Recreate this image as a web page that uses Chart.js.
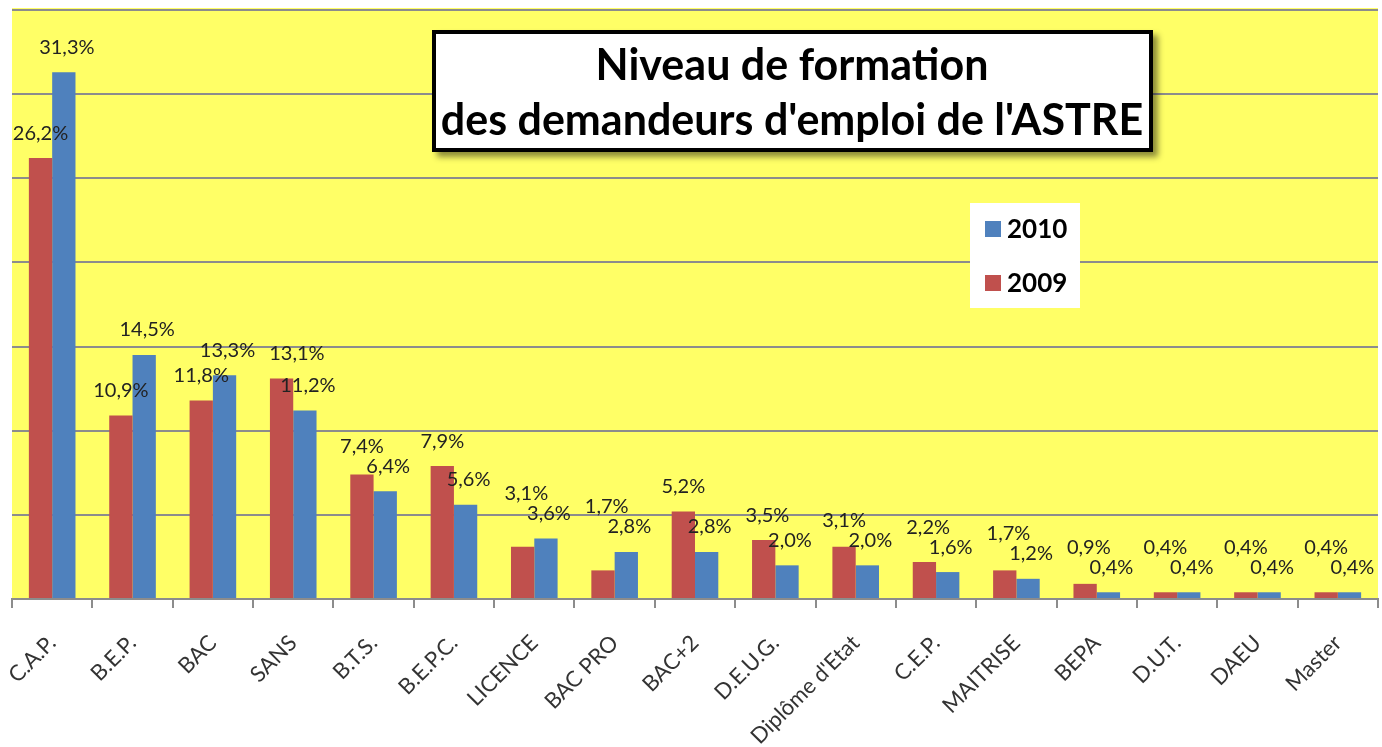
<!DOCTYPE html>
<html>
<head>
<meta charset="utf-8">
<script src="https://cdn.jsdelivr.net/npm/chart.js@4"></script>
<style>
  body { margin: 0; background: #fff; }
  #wrap { width: 1382px; height: 747px; }
</style>
</head>
<body>
<div id="wrap"><canvas id="chartFormation"></canvas></div>
<script>
// Niveau de formation
const niveaux = [
  "C.A.P.", "B.E.P.", "BAC", "SANS", "B.T.S.", "B.E.P.C.", "LICENCE",
  "BAC PRO", "BAC+2", "D.E.U.G.", "Diplôme d'Etat", "C.E.P.", "MAITRISE",
  "BEPA", "D.U.T.", "DAEU", "Master",
];
const val2009 = [26.2, 10.9, 11.8, 13.1, 7.4, 7.9, 3.1, 1.7, 5.2, 3.5, 3.1, 2.2, 1.7, 0.9, 0.4, 0.4, 0.4];
const val2010 = [31.3, 14.5, 13.3, 11.2, 6.4, 5.6, 3.6, 2.8, 2.8, 2.0, 2.0, 1.6, 1.2, 0.4, 0.4, 0.4, 0.4];
const titre = ["Niveau de formation", "des demandeurs d'emploi de l'ASTRE"];

const police = "Lato, 'Open Sans', sans-serif";

// fond jaune + titre + légende + étiquettes
const decor = {
  id: "decor",
  beforeDraw(chart) {
    const { ctx, chartArea: a } = chart;
    ctx.save();
    ctx.fillStyle = "#ffff66";
    ctx.fillRect(a.left, a.top - 2, a.right - a.left, a.bottom - a.top + 2);
    ctx.restore();
  },
  afterDatasetsDraw(chart) {
    const ctx = chart.ctx;
    const rouges = chart.getDatasetMeta(0).data;
    const bleues = chart.getDatasetMeta(1).data;
    const fmt = (v) => v.toFixed(1).replace(".", ",") + "%";
    ctx.save();
    ctx.font = "20px " + police;
    ctx.fillStyle = "#222";
    ctx.textAlign = "center";
    ctx.textBaseline = "middle";
    let prev = null;
    bleues.forEach((b, j) => {
      const r = rouges[j];
      const tB = fmt(val2010[j]);
      const tR = fmt(val2009[j]);
      const yB = b.y - 25;
      let yR = r.y - 25;
      // évite le chevauchement des deux étiquettes
      if (Math.abs(yR - yB) < 20) yR = yB - 20;
      let xR = r.x;
      const wR = ctx.measureText(tR).width;
      if (prev && Math.abs(prev.y - yR) < 20) {
        const min = prev.x + prev.w / 2 + 14 + wR / 2;
        if (xR < min) xR = min;
      }
      const xB = b.x + 3;
      ctx.fillText(tR, xR, yR);
      ctx.fillText(tB, xB, yB);
      prev = { x: xB, y: yB, w: ctx.measureText(tB).width };
    });
    ctx.restore();
  },
  afterDraw(chart) {
    const ctx = chart.ctx;
    ctx.save();
    // titre
    ctx.shadowColor = "rgba(0,0,0,0.45)";
    ctx.shadowBlur = 6;
    ctx.shadowOffsetX = 5;
    ctx.shadowOffsetY = 5;
    ctx.fillStyle = "#fff";
    ctx.fillRect(432, 30, 721, 122);
    ctx.shadowColor = "transparent";
    ctx.lineWidth = 4;
    ctx.strokeStyle = "#000";
    ctx.strokeRect(434, 32, 717, 118);
    ctx.fillStyle = "#000";
    ctx.font = "bold 43px " + police;
    ctx.textAlign = "center";
    ctx.textBaseline = "middle";
    ctx.fillText(titre[0], 792, 66);
    ctx.fillText(titre[1], 792, 121);

    // légende
    ctx.fillStyle = "#fff";
    ctx.fillRect(970, 203, 110, 105);
    ctx.font = "bold 26px " + police;
    ctx.textAlign = "left";
    const items = chart.data.datasets.slice().reverse();
    items.forEach((ds, k) => {
      const y = 229 + k * 54;
      ctx.fillStyle = ds.backgroundColor;
      ctx.fillRect(985, y - 8, 16, 16);
      ctx.fillStyle = "#000";
      ctx.fillText(ds.label, 1007, y + 1);
    });
    ctx.restore();
  },
};

const graf = document.getElementById("chartFormation");

new Chart(graf, {
  type: "bar",
  data: {
    labels: niveaux,
    datasets: [
      {
        label: "2009",
        data: val2009,
        backgroundColor: "#c0504d",
        barPercentage: 1,
        categoryPercentage: 0.58,
      },
      {
        label: "2010",
        data: val2010,
        backgroundColor: "#4f81bd",
        barPercentage: 1,
        categoryPercentage: 0.58,
      },
    ],
  },
  options: {
    responsive: true,
    maintainAspectRatio: false,
    animation: false,
    layout: { padding: { left: 12, right: 4, top: 10 } },
    plugins: {
      legend: { display: false },
      tooltip: { enabled: false },
    },
    scales: {
      x: {
        grid: {
          drawOnChartArea: false,
          color: "#8c8c8c",
          lineWidth: 2,
          tickLength: 9,
        },
        border: { color: "#8c8c8c", width: 2 },
        ticks: {
          color: "#333",
          font: { family: police, size: 22 },
          minRotation: 45,
          maxRotation: 45,
          padding: 22,
        },
        afterFit(s) {
          s.height = 148;
          s.paddingLeft = 0;
          s.paddingRight = 0;
        },
      },
      y: {
        min: 0,
        max: 35,
        ticks: { display: false, stepSize: 5 },
        grid: { color: "#8c8c8c", lineWidth: 2, drawTicks: false },
        border: { display: false },
        afterFit(s) { s.width = 0; },
      },
    },
  },
  plugins: [decor],
});
</script>
</body>
</html>
